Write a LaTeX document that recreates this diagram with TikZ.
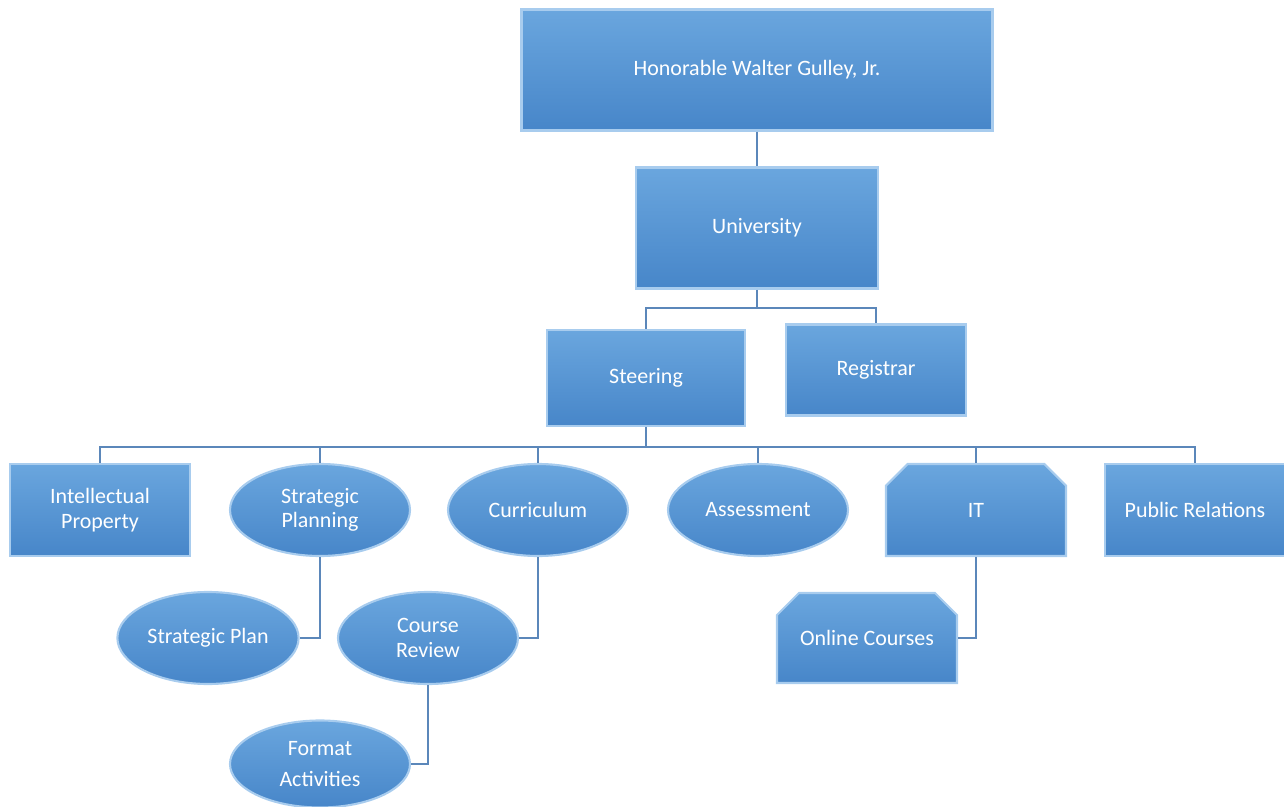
\documentclass[tikz,border=0pt]{standalone}
\usepackage{fontspec}
\setmainfont{Carlito}
\usepackage{tikz}
\usetikzlibrary{shapes.geometric, shapes.misc}

\definecolor{boxtop}{HTML}{6AA6DE}
\definecolor{boxbot}{HTML}{4786C9}
\definecolor{boxedge}{HTML}{A8CCEE}
\definecolor{wire}{HTML}{5B87BA}

\begin{document}
\begin{tikzpicture}[semithick,
    unit/.style={rectangle, top color=boxtop, bottom color=boxbot, draw=boxedge, line width=1.2pt,
                 text=white, align=center, font=\fontsize{12.5}{14}\selectfont, inner sep=2pt},
    oval/.style={unit, ellipse},
    cut/.style={unit, chamfered rectangle, chamfered rectangle xsep=0.22cm, chamfered rectangle ysep=0.22cm,
                chamfered rectangle corners={north west, north east}},
    wire/.style={draw=wire, line width=1.4pt}]
        \useasboundingbox (0,0) rectangle (25.68,-16.14);

				\node[unit, minimum width=9.42cm, minimum height=2.42cm] (A) at (15.14,-1.40) {Honorable Walter Gulley, Jr.};
				\node[unit, minimum width=4.84cm, minimum height=2.42cm] (B) at (15.14,-4.56) {University};
				\node[unit, minimum width=3.96cm, minimum height=1.92cm] (C) at (12.92,-7.56) {Steering};
				\node[unit, minimum width=3.60cm, minimum height=1.82cm] (D) at (17.52,-7.40) {Registrar};

				\node[unit, minimum width=3.6cm, minimum height=1.84cm] (E) at (2.00,-10.20) {Intellectual\\Property};
				\node[oval, minimum width=3.6cm, minimum height=1.84cm] (F) at (6.40,-10.20) {Strategic\\Planning};
				\node[oval, minimum width=3.6cm, minimum height=1.84cm] (G) at (10.76,-10.20) {Curriculum};
				\node[oval, minimum width=3.6cm, minimum height=1.84cm] (H) at (15.16,-10.20) {Assessment};
				\node[cut, minimum width=3.6cm, minimum height=1.84cm] (I) at (19.52,-10.20) {IT};
				\node[unit, minimum width=3.6cm, minimum height=1.84cm] (J) at (23.90,-10.20) {Public Relations};

				\node[oval, minimum width=3.6cm, minimum height=1.84cm] (K) at (4.16,-12.76) {Strategic Plan};
				\node[oval, minimum width=3.6cm, minimum height=1.84cm] (L) at (8.56,-12.76) {Course\\Review};
				\node[oval, minimum width=3.6cm, minimum height=1.74cm] (M) at (6.40,-15.28) {Format\\[4pt]Activities};
				\node[cut, minimum width=3.6cm, minimum height=1.80cm] (N) at (17.34,-12.76) {Online Courses};

        \coordinate (bus1) at (15.14,-6.16);
        \coordinate (bus2) at (12.92,-8.94);

				\path[wire] (A) -- (B)
                  (B) -- (bus1) -| (C)
                  (bus1) -| (D)
                  (C) -- (bus2) -| (E)
                  (bus2) -| (F)
                  (bus2) -| (G)
                  (bus2) -| (H)
                  (bus2) -| (I)
                  (bus2) -| (J)
                  (F) |- (K)
                  (G) |- (L)
                  (L) |- (M)
                  (I) |- (N);
			\end{tikzpicture}
\end{document}
